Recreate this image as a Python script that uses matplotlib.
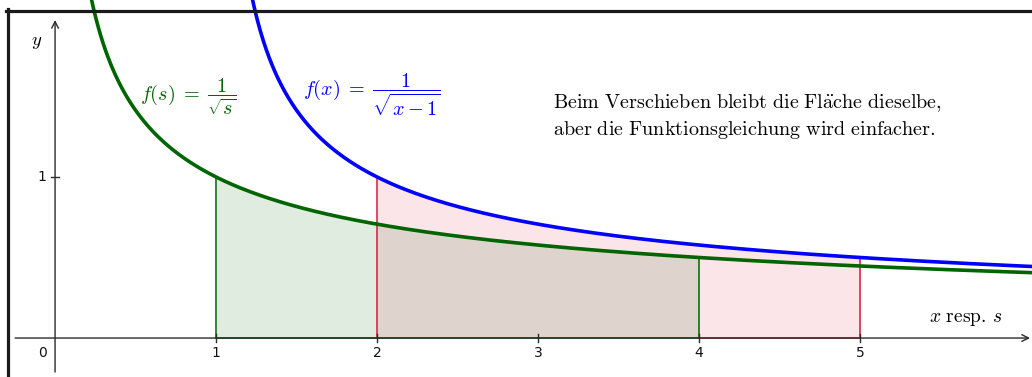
import numpy as np
import matplotlib
matplotlib.use("Agg")
import matplotlib.pyplot as plt
from matplotlib.lines import Line2D

plt.rcParams["mathtext.fontset"] = "cm"

# Integration intervals
s_interval = [1, 4]          # area under f(s) = 1/sqrt(s)
x_interval = [2, 5]          # area under f(x) = 1/sqrt(x-1)
x_ticks = [1, 2, 3, 4, 5]
x_tick_labels = ["1", "2", "3", "4", "5"]
y_ticks = [1]
y_tick_labels = ["1"]

GREEN = "#006400"
BLUE = "#0000ff"
CRIMSON = "#dc143c"
AXIS = "#2b2b2b"

def f_s(s):
    return 1.0 / np.sqrt(s)

def f_x(x):
    return 1.0 / np.sqrt(x - 1.0)

fig = plt.figure(figsize=(10.32, 3.77), dpi=100)
ax = fig.add_axes([0, 0, 1, 1])
xmin, xmax = -0.342, 6.068
ymin, ymax = -0.242, 2.099
ax.set_xlim(xmin, xmax)
ax.set_ylim(ymin, ymax)
ax.axis("off")

# shaded areas
ss = np.linspace(s_interval[0], s_interval[1], 300)
ax.fill_between(ss, 0, f_s(ss), color=GREEN, alpha=0.12, linewidth=0, zorder=1)
xs = np.linspace(x_interval[0], x_interval[1], 300)
ax.fill_between(xs, 0, f_x(xs), color=CRIMSON, alpha=0.11, linewidth=0, zorder=1)

# region borders
for s in s_interval:
    ax.plot([s, s], [0, f_s(s)], color=GREEN, lw=1.1, zorder=2)
ax.plot(s_interval, [0, 0], color=GREEN, lw=1.1, zorder=2)
for x in x_interval:
    ax.plot([x, x], [0, f_x(x)], color=CRIMSON, lw=1.1, zorder=2)
ax.plot([s_interval[1], x_interval[1]], [0, 0], color=CRIMSON, lw=1.1, zorder=2)

# coordinate axes with arrow heads
ax.annotate("", xy=(6.056, 0), xytext=(-0.248, 0),
            arrowprops=dict(arrowstyle="->", color=AXIS, lw=1.0,
                            mutation_scale=12, shrinkA=0, shrinkB=0), zorder=3)
ax.annotate("", xy=(0, 1.975), xytext=(0, -0.211),
            arrowprops=dict(arrowstyle="->", color=AXIS, lw=1.0,
                            mutation_scale=12, shrinkA=0, shrinkB=0), zorder=3)

# ticks
tk = 0.025
for t, lab in zip(x_ticks, x_tick_labels):
    ax.plot([t, t], [-tk, tk], color=AXIS, lw=1.0, zorder=3)
    ax.text(t, -0.093, lab, ha="center", va="center", fontsize=10,
            family="DejaVu Sans", color="#111111")
for t, lab in zip(y_ticks, y_tick_labels):
    ax.plot([-tk, tk], [t, t], color=AXIS, lw=1.0, zorder=3)
    ax.text(-0.081, t, lab, ha="center", va="center", fontsize=10,
            family="DejaVu Sans", color="#111111")
ax.text(-0.081, -0.093, "0", ha="center", va="center", fontsize=10,
        family="DejaVu Sans", color="#111111")

# curves
s_curve = np.linspace(0.2, xmax + 0.1, 800)
ax.plot(s_curve, f_s(s_curve), color=GREEN, lw=2.6, zorder=4, solid_capstyle="butt")
x_curve = np.linspace(1.2, xmax + 0.1, 800)
ax.plot(x_curve, f_x(x_curve), color=BLUE, lw=2.6, zorder=4, solid_capstyle="butt")

# labels
ax.text(0.528, 1.50, r"$f(s)\;=\;\dfrac{1}{\sqrt{s}}$", color=GREEN,
        fontsize=14.5, ha="left", va="center")
ax.text(1.540, 1.51, r"$f(x)\;=\;\dfrac{1}{\sqrt{x-1}}$", color=BLUE,
        fontsize=14.5, ha="left", va="center")
ax.text(-0.112, 1.839, r"$y$", fontsize=13.5, ha="center", va="center")
ax.text(5.658, 0.124, r"$x\ \mathrm{resp.}\,s$", fontsize=14, ha="center", va="center")
ax.text(3.093, 1.376,
        r"$\mathrm{Beim\ Verschieben\ bleibt\ die\ Fl\ddot{a}che\ dieselbe,}$" "\n"
        r"$\mathrm{aber\ die\ Funktionsgleichung\ wird\ einfacher.}$",
        fontsize=14.5, ha="left", va="center", linespacing=1.35)

# frame lines along the top and left edges
fig.add_artist(Line2D([6 / 1032, 1], [1 - 10.5 / 377] * 2, color="#1a1a1a", lw=2.3,
                      transform=fig.transFigure))
fig.add_artist(Line2D([7.5 / 1032] * 2, [0, 1 - 9 / 377], color="#1a1a1a", lw=2.3,
                      transform=fig.transFigure))

fig.savefig("out.png", dpi=100)
